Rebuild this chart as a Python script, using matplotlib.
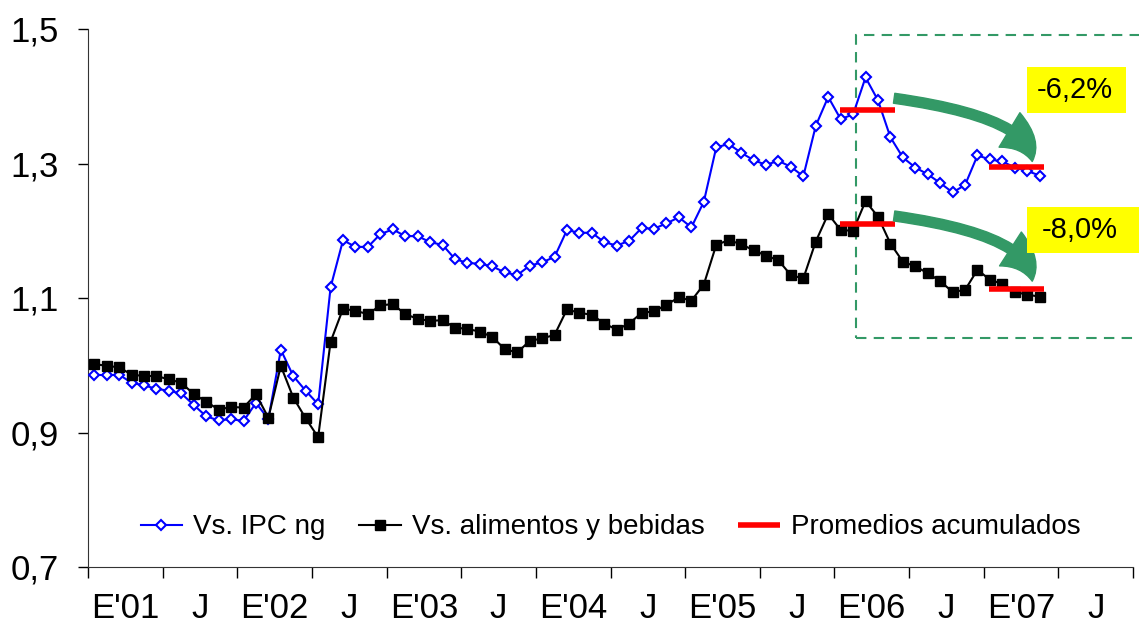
#!/usr/bin/env python3
"""
Relative price index vs. IPC ng and vs. food & beverages, monthly E'01 - May'07,
with cumulative Jan-May averages for 2006 and 2007.
"""

import numpy as np
import matplotlib
matplotlib.use("Agg")
import matplotlib.pyplot as plt
from matplotlib.patches import FancyArrowPatch, Rectangle

plt.rcParams["font.family"] = ["Liberation Sans", "DejaVu Sans"]

# Monthly values, Jan 2001 .. May 2007 (77 months)
VS_IPC = [
    0.986, 0.985, 0.986, 0.974, 0.970, 0.965, 0.962, 0.958, 0.941, 0.924, 0.918, 0.920,
    0.917, 0.944, 0.920, 1.023, 0.984, 0.962, 0.942, 1.116, 1.186, 1.176, 1.176, 1.195,
    1.202, 1.192, 1.192, 1.183, 1.179, 1.158, 1.152, 1.151, 1.147, 1.138, 1.134, 1.148,
    1.153, 1.161, 1.201, 1.197, 1.197, 1.183, 1.178, 1.185, 1.204, 1.203, 1.211, 1.220,
    1.205, 1.243, 1.324, 1.329, 1.316, 1.305, 1.298, 1.304, 1.295, 1.281, 1.356, 1.399,
    1.366, 1.373, 1.428, 1.394, 1.339, 1.309, 1.294, 1.284, 1.271, 1.257, 1.268, 1.312,
    1.306, 1.303, 1.294, 1.289, 1.282,
]
VS_ALIMENTOS = [
    1.002, 0.999, 0.997, 0.986, 0.984, 0.984, 0.979, 0.974, 0.957, 0.946, 0.934, 0.938,
    0.937, 0.957, 0.922, 0.999, 0.952, 0.921, 0.893, 1.035, 1.084, 1.081, 1.076, 1.089,
    1.091, 1.076, 1.069, 1.066, 1.067, 1.056, 1.054, 1.050, 1.042, 1.024, 1.019, 1.036,
    1.040, 1.045, 1.083, 1.078, 1.075, 1.062, 1.053, 1.062, 1.078, 1.080, 1.090, 1.101,
    1.096, 1.120, 1.179, 1.186, 1.180, 1.171, 1.163, 1.156, 1.134, 1.129, 1.184, 1.225,
    1.201, 1.200, 1.244, 1.221, 1.181, 1.154, 1.147, 1.137, 1.125, 1.109, 1.112, 1.142,
    1.127, 1.121, 1.109, 1.105, 1.102,
]
N_CATEGORIES = 84  # Jan 2001 .. Dec 2007
TICK_LABELS = ["E'01", "J", "E'02", "J", "E'03", "J", "E'04", "J",
               "E'05", "J", "E'06", "J", "E'07", "J"]
Y_TICKS = [0.7, 0.9, 1.1, 1.3, 1.5]
Y_LABELS = ["0,7", "0,9", "1,1", "1,3", "1,5"]

# Jan-May windows for cumulative averages (month indices)
WIN_2006 = (60, 64)
WIN_2007 = (72, 76)
CHANGE_LABELS = ["-6,2%", "-8,0%"]

BLUE = "#0000ff"
GREEN = "#339966"


def window_mean(series, win):
    a, b = win
    return float(np.mean(series[a:b + 1]))


fig = plt.figure(figsize=(11.39, 6.32), dpi=100)
ax = fig.add_axes([88 / 1139, 65 / 632, 1045 / 1139, 538 / 632])

x = np.arange(len(VS_IPC))
ax.plot(x, VS_IPC, color=BLUE, lw=1.5, marker="D", ms=5.5, mfc="white",
        mec=BLUE, mew=1.5, label="Vs. IPC ng", zorder=3)
ax.plot(x, VS_ALIMENTOS, color="black", lw=1.5, marker="s", ms=6.5,
        mfc="black", mec="black", label="Vs. alimentos y bebidas", zorder=3)

# cumulative averages (red segments)
first = True
for series in (VS_IPC, VS_ALIMENTOS):
    for win in (WIN_2006, WIN_2007):
        m = window_mean(series, win)
        ax.plot([win[0] - 0.05, win[1] + 0.35], [m, m], color="#ff0000", lw=4,
                solid_capstyle="butt", zorder=4,
                label="Promedios acumulados" if first else None)
        first = False

# dashed green frame
ax.add_patch(Rectangle((61.2, 1.0405), 30, 0.4505, fill=False, ls=(0, (5, 3.5)),
                       lw=1.5, ec=GREEN, clip_on=False, zorder=2))

# curved arrows
arrows = [((64.3, 1.397), (75.4, 1.303)),
          ((64.3, 1.222), (75.4, 1.125))]
for start, end in arrows:
    arr = FancyArrowPatch(start, end, connectionstyle="angle3,angleA=-8,angleB=90",
                          arrowstyle="simple,head_length=1.4,head_width=1.45,tail_width=0.36",
                          mutation_scale=20, color=GREEN, shrinkA=0, shrinkB=0,
                          zorder=5, clip_on=False)
    ax.add_patch(arr)

# yellow label boxes
boxes = [((75.0, 1.375), 7.9, 0.0685, (78.85, 1.409)),
         ((75.0, 1.167), 9.2, 0.0685, (79.25, 1.201))]
for (xy, w, h, tpos), txt in zip(boxes, CHANGE_LABELS):
    ax.add_patch(Rectangle(xy, w, h, fc="#ffff00", ec="none", clip_on=False, zorder=6))
    ax.text(tpos[0], tpos[1], txt, fontsize=21, ha="center", va="center", zorder=7)

ax.set_xlim(-0.5, N_CATEGORIES - 0.5)
ax.set_ylim(0.7, 1.5)

ax.set_yticks(Y_TICKS)
ax.set_yticklabels(Y_LABELS, fontsize=25)
ax.tick_params(axis="y", direction="out", length=7, width=1, pad=14)

ax.set_xticks(np.arange(-0.5, N_CATEGORIES, 6))
ax.set_xticklabels([])
ax.tick_params(axis="x", which="major", direction="out", length=8, width=1)
ax.set_xticks(np.arange(2.5, N_CATEGORIES, 6), minor=True)
ax.set_xticklabels(TICK_LABELS, minor=True, fontsize=25)
ax.tick_params(axis="x", which="minor", length=0, pad=18)

for side in ("top", "right"):
    ax.spines[side].set_visible(False)
for side in ("left", "bottom"):
    ax.spines[side].set_color("#333333")

ax.legend(loc="lower center", bbox_to_anchor=(0.5, 0.003), ncol=3, frameon=False,
          fontsize=20, handlelength=1.5, handletextpad=0.4, columnspacing=1.2)

fig.savefig("out.png", dpi=100)
